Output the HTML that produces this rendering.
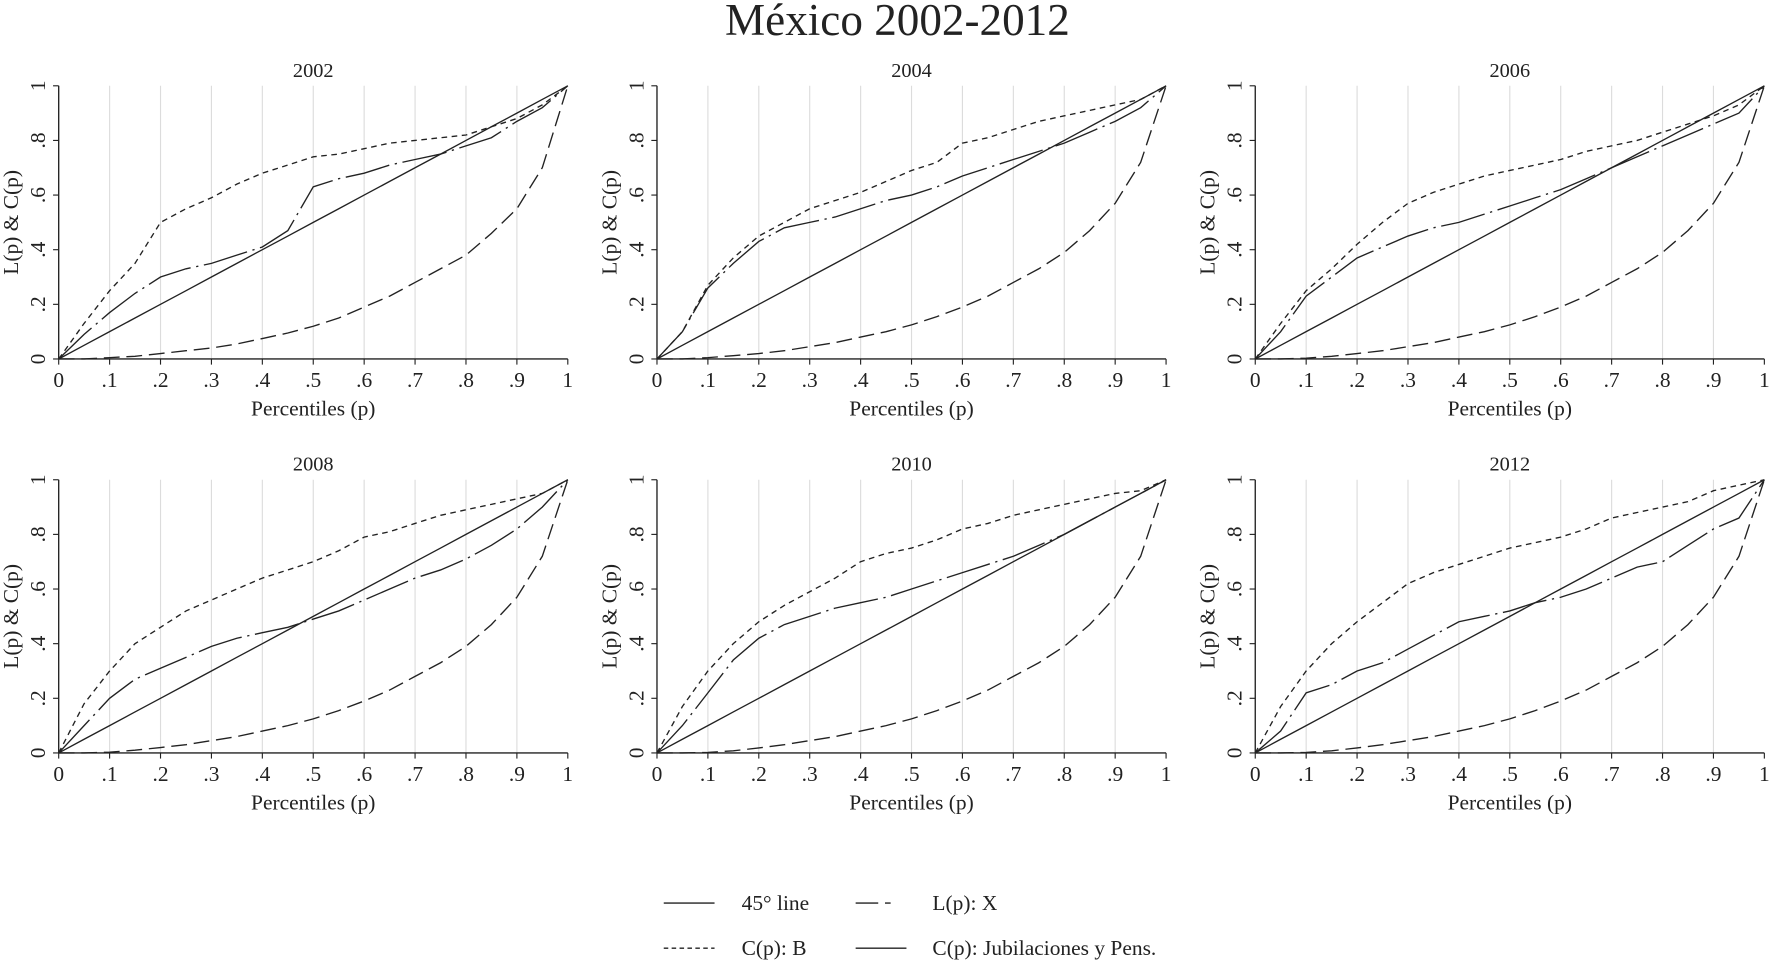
<!DOCTYPE html>
<html><head><meta charset="utf-8"><style>
html,body{margin:0;padding:0;background:#fff;}
svg{display:block;font-family:"Liberation Serif",serif;}
</style></head><body>
<svg id="chart" width="1770" height="962" viewBox="0 0 1568 852.2" xmlns="http://www.w3.org/2000/svg">
<text x="795" y="31" font-size="40" text-anchor="middle" fill="#222">México 2002-2012</text>
<g id="panels"></g>
<g font-size="19" fill="#222" stroke-width="1.2">
 <line x1="588" y1="800" x2="633" y2="800" stroke="#222"/>
 <text x="657" y="806">45° line</text>
 <line x1="758" y1="800" x2="803" y2="800" stroke="#222" stroke-dasharray="20 6 5 20"/>
 <text x="826" y="806">L(p): X</text>
 <line x1="588" y1="840" x2="633" y2="840" stroke="#222" stroke-dasharray="4 3"/>
 <text x="657" y="846">C(p): B</text>
 <line x1="758" y1="840" x2="803" y2="840" stroke="#222"/>
 <text x="826" y="846">C(p): Jubilaciones y Pens.</text>
</g>
</svg>
<script>
const years = ["2002","2004","2006","2008","2010","2012"];
const pGrid = [0,.05,.1,.15,.2,.25,.3,.35,.4,.45,.5,.55,.6,.65,.7,.75,.8,.85,.9,.95,1];
const xTicks = ["0",".1",".2",".3",".4",".5",".6",".7",".8",".9","1"];
const yTicks = ["0",".2",".4",".6",".8","1"];
const lx2002 = [0,0,.005,.01,.02,.03,.04,.055,.075,.095,.12,.15,.19,.23,.28,.33,.38,.46,.55,.7,1];
const lx2004 = [0,0,.005,.012,.02,.03,.045,.06,.08,.1,.125,.155,.19,.23,.28,.33,.39,.47,.57,.72,1];
const lx2006 = [0,0,.003,.01,.02,.03,.045,.06,.08,.1,.125,.155,.19,.23,.28,.33,.39,.47,.57,.72,1];
const lx2008 = [0,0,.003,.01,.02,.03,.045,.06,.08,.1,.125,.155,.19,.23,.28,.33,.39,.47,.57,.72,1];
const lx2010 = [0,0,.002,.008,.018,.03,.045,.06,.08,.1,.125,.155,.19,.23,.28,.33,.39,.47,.57,.72,1];
const lx2012 = [0,0,.002,.008,.018,.03,.045,.06,.08,.1,.125,.155,.19,.23,.28,.33,.39,.47,.57,.72,1];
const cb2002 = [0,.13,.25,.35,.5,.55,.59,.64,.68,.71,.74,.75,.77,.79,.8,.81,.82,.85,.88,.93,1];
const cb2004 = [0,.1,.27,.37,.45,.5,.55,.58,.61,.65,.69,.72,.79,.81,.84,.87,.89,.91,.93,.95,1];
const cb2006 = [0,.13,.25,.33,.42,.5,.57,.61,.64,.67,.69,.71,.73,.76,.78,.8,.83,.86,.89,.93,1];
const cb2008 = [0,.18,.3,.4,.46,.52,.56,.6,.64,.67,.7,.74,.79,.81,.84,.87,.89,.91,.93,.95,1];
const cb2010 = [0,.17,.3,.4,.48,.54,.59,.64,.7,.73,.75,.78,.82,.84,.87,.89,.91,.93,.95,.96,1];
const cb2012 = [0,.17,.3,.4,.48,.55,.62,.66,.69,.72,.75,.77,.79,.82,.86,.88,.9,.92,.96,.98,1];
const cj2002 = [0,.09,.17,.24,.3,.33,.35,.38,.41,.47,.63,.66,.68,.71,.73,.75,.78,.81,.87,.92,1];
const cj2004 = [0,.1,.26,.35,.43,.48,.5,.52,.55,.58,.6,.63,.67,.7,.73,.76,.79,.83,.87,.92,1];
const cj2006 = [0,.1,.23,.3,.37,.41,.45,.48,.5,.53,.56,.59,.62,.66,.7,.74,.78,.82,.86,.9,1];
const cj2008 = [0,.1,.2,.27,.31,.35,.39,.42,.44,.46,.49,.52,.56,.6,.64,.67,.71,.76,.82,.9,1];
const cj2010 = [0,.1,.22,.34,.42,.47,.5,.53,.55,.57,.6,.63,.66,.69,.72,.76,.8,.85,.9,.95,1];
const cj2012 = [0,.08,.22,.25,.3,.33,.38,.43,.48,.5,.52,.55,.57,.6,.64,.68,.7,.76,.82,.86,1];
const lxAll = [lx2002,lx2004,lx2006,lx2008,lx2010,lx2012];
const cbAll = [cb2002,cb2004,cb2006,cb2008,cb2010,cb2012];
const cjAll = [cj2002,cj2004,cj2006,cj2008,cj2010,cj2012];

const NS = "http://www.w3.org/2000/svg";
const root = document.getElementById("panels");
function mk(tag, attrs, parent){const e=document.createElementNS(NS,tag);for(const k in attrs)e.setAttribute(k,attrs[k]);parent.appendChild(e);return e;}
const colX = [52,582,1112], rowY = [318,667], W = 451, H = 242;
years.forEach((yr,i)=>{
  const x0 = colX[i%3], y0 = rowY[Math.floor(i/3)];
  const sx = v => x0 + v*W, sy = v => y0 - v*H;
  const g = mk("g",{},root);
  
  
  const t = mk("text",{x:x0+W/2,y:y0-H-8,"font-size":18,"text-anchor":"middle",fill:"#222"},g);
  t.textContent = yr;
  
  
  for(let k=1;k<=9;k++){
    const gl = mk("line",{x1:sx(k/10),x2:sx(k/10),y1:sy(0),y2:sy(1),stroke:"#dcdcdc","stroke-width":1},g);
    
    
  }
  const ya = mk("line",{x1:x0,x2:x0,y1:sy(0),y2:sy(1),stroke:"#222","stroke-width":1.2},g);
  
  
  const xa = mk("line",{x1:x0,x2:sx(1),y1:y0,y2:y0,stroke:"#222","stroke-width":1.2},g);
  
  
  xTicks.forEach((lab,k)=>{
    const v=k/10;
    const tk = mk("line",{x1:sx(v),x2:sx(v),y1:y0,y2:y0+5,stroke:"#222","stroke-width":1},g);
    
    
    const tl = mk("text",{x:sx(v),y:y0+25,"font-size":19,"text-anchor":"middle",fill:"#222"},g);
    tl.textContent = lab;
    
    
  });
  yTicks.forEach((lab,k)=>{
    const v=k/5;
    const tk = mk("line",{x1:x0-5,x2:x0,y1:sy(v),y2:sy(v),stroke:"#222","stroke-width":1},g);
    
    
    const tl = mk("text",{x:x0-12,y:sy(v),"font-size":19,"text-anchor":"middle",fill:"#222",transform:`rotate(-90 ${x0-12} ${sy(v)})`},g);
    tl.textContent = lab;
    
    
  });
  const xt = mk("text",{x:x0+W/2,y:y0+50,"font-size":19,"text-anchor":"middle",fill:"#222"},g);
  xt.textContent = "Percentiles (p)";
  
  
  const yx = x0-36, yy = y0-H/2;
  const yt = mk("text",{x:yx,y:yy,"font-size":19,"text-anchor":"middle",fill:"#222",transform:`rotate(-90 ${yx} ${yy})`},g);
  yt.textContent = "L(p) & C(p)";
  
  
  const path = arr => arr.map((v,k)=>(k?"L":"M")+sx(pGrid[k]).toFixed(1)+","+sy(v).toFixed(1)).join("");
  const d45 = mk("path",{d:path(pGrid),fill:"none",stroke:"#222","stroke-width":1.2},g);
  
  
  const lx = mk("path",{d:path(lxAll[i]),fill:"none",stroke:"#222","stroke-width":1.2,"stroke-dasharray":"14 6"},g);
  
  
  const cb = mk("path",{d:path(cbAll[i]),fill:"none",stroke:"#222","stroke-width":1.2,"stroke-dasharray":"5 4"},g);
  
  
  const cj = mk("path",{d:path(cjAll[i]),fill:"none",stroke:"#222","stroke-width":1.2,"stroke-dasharray":"40 5 2 5"},g);
  
  
});
</script>
</body></html>
